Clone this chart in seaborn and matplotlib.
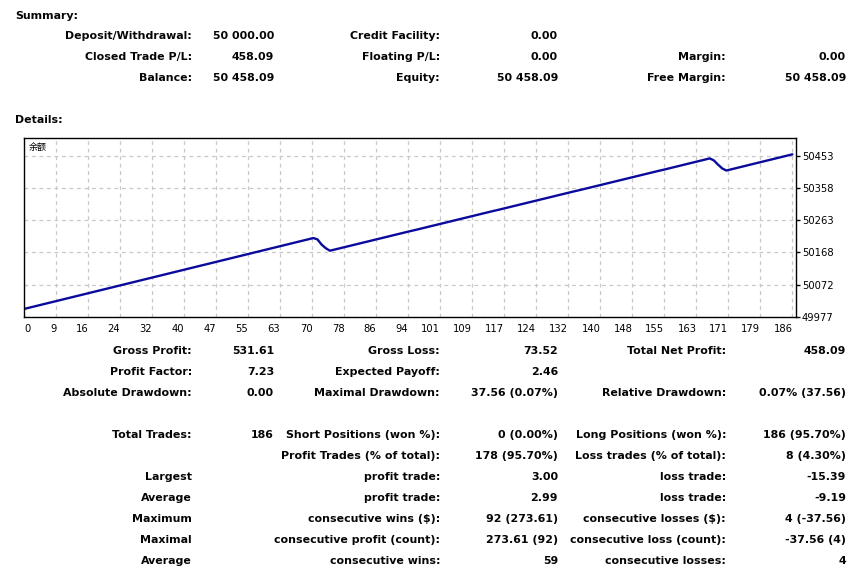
import matplotlib
matplotlib.use("Agg")
import matplotlib.pyplot as plt
import numpy as np
import pandas as pd
import seaborn as sns

initial_deposit = 50000.00
wins_first = [
    3.00, 3.00, 3.00, 3.00, 3.00, 3.00, 3.00, 3.00, 3.00, 3.00,
    3.00, 3.00, 3.00, 3.00, 3.00, 3.00, 3.00, 3.00, 3.00, 3.00,
    3.00, 3.00, 3.00, 3.00, 3.00, 3.00, 3.00, 3.00, 3.00, 3.00,
    3.00, 3.00, 3.00, 3.00, 3.00, 3.00, 3.00, 3.00, 3.00, 3.00,
    3.00, 3.00, 3.00, 3.00, 3.00, 3.00, 3.00, 3.00, 3.00, 3.00,
    3.00, 3.00, 3.00, 3.00, 3.00, 3.00, 3.00, 3.00, 3.00, 3.00,
    3.00, 3.00, 3.00, 3.00, 3.00, 3.00, 3.00, 3.00, 3.00, 3.00,
]
losses_first = [-4.10, -15.39, -10.52, -7.55]
wins_second = [
    3.00, 3.00, 3.00, 3.00, 3.00, 3.00, 3.00, 3.00, 3.00, 2.70,
    3.00, 3.00, 3.00, 3.00, 3.00, 3.00, 3.00, 3.00, 3.00, 2.70,
    3.00, 3.00, 3.00, 3.00, 3.00, 3.00, 3.00, 3.00, 3.00, 2.70,
    3.00, 3.00, 3.00, 3.00, 3.00, 3.00, 3.00, 3.00, 3.00, 2.70,
    3.00, 3.00, 3.00, 3.00, 3.00, 3.00, 3.00, 3.00, 3.00, 2.70,
    3.00, 3.00, 3.00, 3.00, 3.00, 3.00, 3.00, 3.00, 3.00, 2.70,
    3.00, 3.00, 3.00, 3.00, 3.00, 3.00, 3.00, 3.00, 3.00, 2.70,
    3.00, 3.00, 3.00, 3.00, 3.00, 3.00, 3.00, 3.00, 3.00, 2.71,
    3.00, 3.00, 3.00, 3.00, 3.00, 3.00, 3.00, 3.00, 3.00, 3.00,
    3.00, 3.00,
]
losses_second = [-6.20, -12.40, -11.06, -6.30]
wins_last = [
    3.00, 3.00, 3.00, 3.00, 3.00, 3.00, 3.00, 3.00, 3.00, 3.00,
    3.00, 3.00, 3.00, 3.00, 3.00, 3.00,
]

x_tick_labels = ["0", "9", "16", "24", "32", "40", "47", "55", "63", "70",
                 "78", "86", "94", "101", "109", "117", "124", "132", "140",
                 "148", "155", "163", "171", "179", "186"]
y_tick_values = [49977, 50072, 50168, 50263, 50358, 50453]

# Report text rows: (label, value) for three columns
summary_rows = [
    [("Deposit/Withdrawal:", "50 000.00"), ("Credit Facility:", "0.00"), ("", "")],
    [("Closed Trade P/L:", "458.09"), ("Floating P/L:", "0.00"), ("Margin:", "0.00")],
    [("Balance:", "50 458.09"), ("Equity:", "50 458.09"), ("Free Margin:", "50 458.09")],
]
details_rows = [
    [("Gross Profit:", "531.61"), ("Gross Loss:", "73.52"), ("Total Net Profit:", "458.09")],
    [("Profit Factor:", "7.23"), ("Expected Payoff:", "2.46"), ("", "")],
    [("Absolute Drawdown:", "0.00"), ("Maximal Drawdown:", "37.56 (0.07%)"),
     ("Relative Drawdown:", "0.07% (37.56)")],
    None,
    [("Total Trades:", "186"), ("Short Positions (won %):", "0 (0.00%)"),
     ("Long Positions (won %):", "186 (95.70%)")],
    [("", ""), ("Profit Trades (% of total):", "178 (95.70%)"),
     ("Loss trades (% of total):", "8 (4.30%)")],
    [("Largest", ""), ("profit trade:", "3.00"), ("loss trade:", "-15.39")],
    [("Average", ""), ("profit trade:", "2.99"), ("loss trade:", "-9.19")],
    [("Maximum", ""), ("consecutive wins ($):", "92 (273.61)"),
     ("consecutive losses ($):", "4 (-37.56)")],
    [("Maximal", ""), ("consecutive profit (count):", "273.61 (92)"),
     ("consecutive loss (count):", "-37.56 (4)")],
    [("Average", ""), ("consecutive wins:", "59"), ("consecutive losses:", "4")],
]

sns.set_theme(style="white")
plt.rcParams['font.family'] = ['DejaVu Sans', 'Noto Sans CJK SC']

W, H = 852, 571
fig = plt.figure(figsize=(W / 100, H / 100), dpi=100)
fig.patch.set_facecolor("white")

profits = wins_first + losses_first + wins_second + losses_second + wins_last
balance = initial_deposit + np.concatenate([[0.0], np.cumsum(profits)])
df = pd.DataFrame({"trade": np.arange(len(balance)), "balance": balance})

# chart area in pixel coordinates
left, right, top, bottom = 24.3, 795.7, 138, 317
ax = fig.add_axes([left / W, 1 - bottom / H, (right - left) / W, (bottom - top) / H])
sns.lineplot(data=df, x="trade", y="balance", ax=ax, color="#0a0a9c", linewidth=1.7)

x_step = 7.75
ax.set_xlim(0, 186.8)
ax.set_ylim(49976, 50506.5)
ax.set_xticks(np.arange(len(x_tick_labels)) * x_step)
ax.set_xticklabels(x_tick_labels)
for i, lab in enumerate(ax.get_xticklabels()):
    lab.set_horizontalalignment("left" if i == 0 else "right")
ax.set_yticks(y_tick_values)
ax.set_yticklabels([str(v) for v in y_tick_values])
ax.yaxis.tick_right()
ax.tick_params(axis="both", direction="out", length=3, width=1, colors="black",
               labelsize=7.2, pad=1.5)
ax.tick_params(axis="x", pad=2)
ax.grid(True, color="#c8c8c8", linestyle=(0, (3, 3)), linewidth=0.9)
for s in ax.spines.values():
    s.set_color("black")
    s.set_linewidth(1)
ax.set_xlabel("")
ax.set_ylabel("")
ax.text(0.006, 0.975, "余额", transform=ax.transAxes, fontsize=6.5, va="top",
        ha="left", family=["Noto Sans CJK SC", "DejaVu Sans"], color="black")

# report text
col_label_right = [192, 440, 726]
col_value_right = [274, 558, 846]
fs = 7.9


def put(x, y, s, ha="right"):
    if s:
        fig.text(x / W, 1 - y / H, s, ha=ha, va="center", fontsize=fs,
                 fontweight="bold", color="#050505")


put(15, 16, "Summary:", ha="left")
for row, y in zip(summary_rows, [36, 57, 78]):
    for c, (label, value) in enumerate(row):
        put(col_label_right[c], y, label)
        put(col_value_right[c], y, value)

put(15, 120, "Details:", ha="left")
y = 351
for row in details_rows:
    if row is not None:
        for c, (label, value) in enumerate(row):
            put(col_label_right[c], y, label)
            put(col_value_right[c], y, value)
    y += 21

fig.savefig("out.png", dpi=100, facecolor="white")
